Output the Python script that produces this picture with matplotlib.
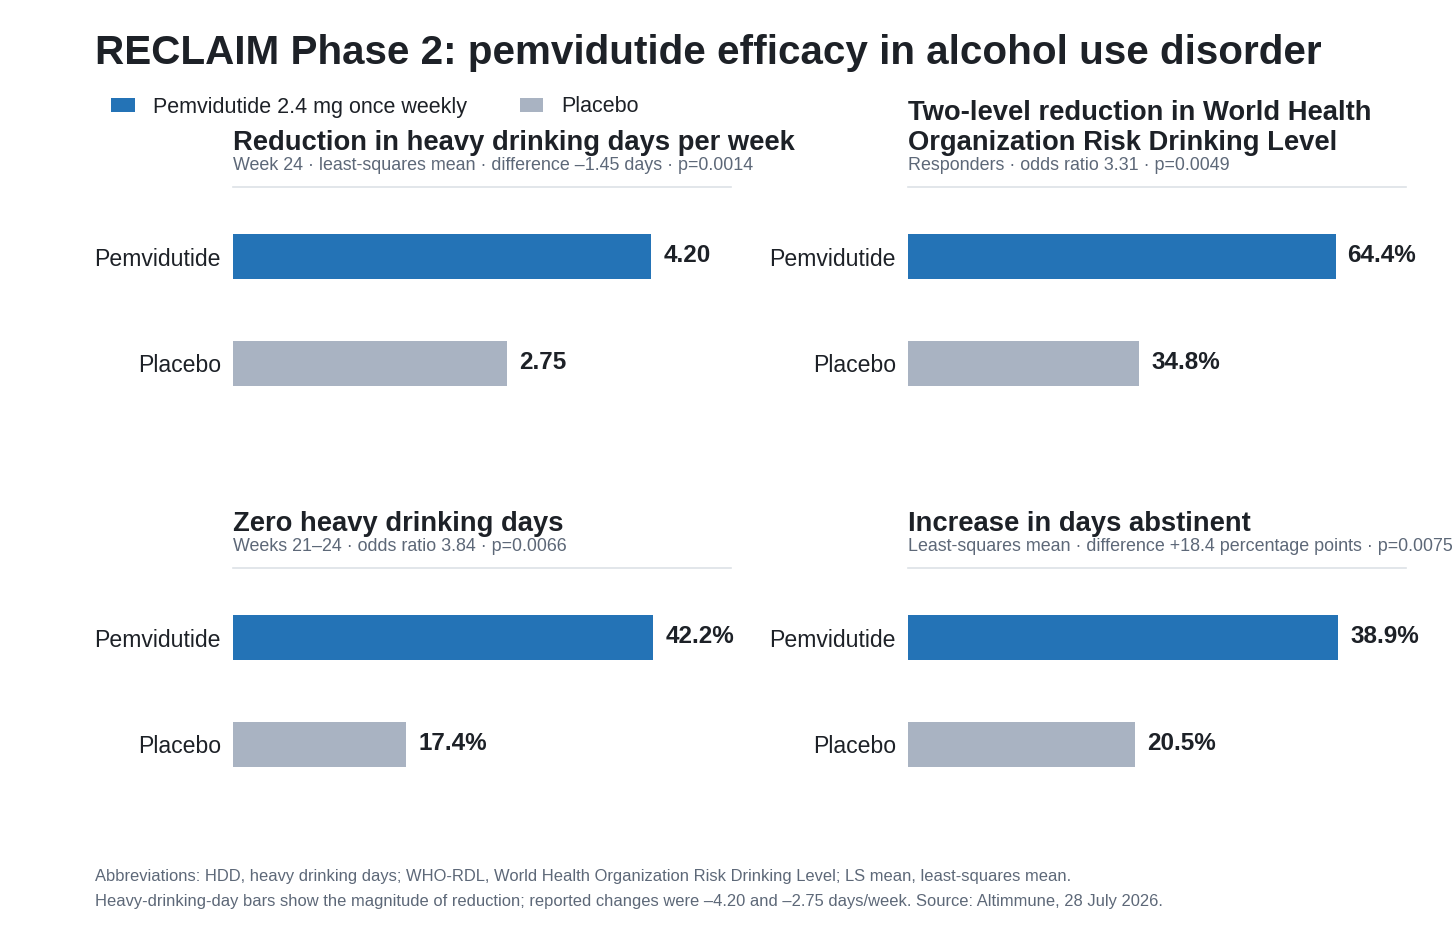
import matplotlib
matplotlib.use("Agg")
import matplotlib.pyplot as plt
from matplotlib.patches import Patch

plt.rcParams['font.family'] = ['Liberation Sans', 'DejaVu Sans']

# data
groups = ["Pemvidutide", "Placebo"]
hdd_values = [4.20, 2.75]
rdl_values = [64.4, 34.8]
zero_hdd_values = [42.2, 17.4]
abstinent_values = [38.9, 20.5]

panel_titles = [
    "Reduction in heavy drinking days per week",
    "Two-level reduction in World Health\nOrganization Risk Drinking Level",
    "Zero heavy drinking days",
    "Increase in days abstinent",
]
panel_subtitles = [
    "Week 24 \u00b7 least-squares mean \u00b7 difference \u20131.45 days \u00b7 p=0.0014",
    "Responders \u00b7 odds ratio 3.31 \u00b7 p=0.0049",
    "Weeks 21\u201324 \u00b7 odds ratio 3.84 \u00b7 p=0.0066",
    "Least-squares mean \u00b7 difference +18.4 percentage points \u00b7 p=0.0075",
]
panel_values = [hdd_values, rdl_values, zero_hdd_values, abstinent_values]
panel_fmt = ["{:.2f}", "{:.1f}%", "{:.1f}%", "{:.1f}%"]
panel_xmax = [5, 75, 50, 45]

title = "RECLAIM Phase 2: pemvidutide efficacy in alcohol use disorder"
legend_labels = ["Pemvidutide 2.4 mg once weekly", "Placebo"]
footer = [
    "Abbreviations: HDD, heavy drinking days; WHO-RDL, World Health Organization Risk Drinking Level; LS mean, least-squares mean.",
    "Heavy-drinking-day bars show the magnitude of reduction; reported changes were \u20134.20 and \u20132.75 days/week. Source: Altimmune, 28 July 2026.",
]

BLUE = "#2473b6"
GREY = "#a9b3c2"
DARK = "#1d2127"
MUTED = "#5d6878"
RULE = "#dde1e6"

W, H = 1456, 936
fig = plt.figure(figsize=(W / 100, H / 100), dpi=100)
fig.patch.set_facecolor("white")


def fx(x):
    return x / W


def fy(y):
    return 1 - y / H


fig.text(fx(95), fy(64), title, fontsize=29.1, fontweight="bold", color=DARK, va="baseline", ha="left")

handles = [Patch(facecolor=BLUE, edgecolor="none"), Patch(facecolor=GREY, edgecolor="none")]
fig.legend(handles, legend_labels, loc="center left", bbox_to_anchor=(fx(111), fy(107)),
           ncol=2, frameon=False, fontsize=15.5, handlelength=1.1, handleheight=0.65,
           handletextpad=0.84, columnspacing=2.45, borderpad=0, borderaxespad=0,
           labelcolor=DARK)

# panel positions in pixels: left, top
lefts = [233, 908, 233, 908]
tops = [187, 187, 568, 568]
pw, ph = 498, 246

for i in range(4):
    l, t = lefts[i], tops[i]
    ax = fig.add_axes([fx(l), fy(t + ph), fx(pw), ph / H])
    vals = panel_values[i]
    ax.barh(range(len(groups)), vals, height=0.42, color=[BLUE, GREY])
    ax.set_xlim(0, panel_xmax[i])
    ax.set_ylim(1.65, -0.65)
    ax.set_yticks(range(len(groups)))
    ax.set_yticklabels(groups, fontsize=16.6, color=DARK)
    ax.tick_params(axis="y", length=0, pad=8.6)
    ax.set_xticks([])
    for s in ["left", "right", "bottom"]:
        ax.spines[s].set_visible(False)
    ax.spines["top"].set_color(RULE)
    ax.spines["top"].set_linewidth(1.2)
    for j, v in enumerate(vals):
        ax.annotate(panel_fmt[i].format(v), xy=(v, j), xytext=(8.6, 1), textcoords="offset points",
                    va="center", ha="left", fontsize=17.5, fontweight="bold", color=DARK)
    fig.text(fx(l), fy(t - 31), panel_titles[i], fontsize=19.7, fontweight="bold", color=DARK,
             va="bottom", ha="left", linespacing=1.22)
    fig.text(fx(l), fy(t - 17), panel_subtitles[i], fontsize=12.9, color=MUTED,
             va="baseline", ha="left")

fig.text(fx(95), fy(881), footer[0], fontsize=11.9, color=MUTED, va="baseline", ha="left")
fig.text(fx(95), fy(906), footer[1], fontsize=11.9, color=MUTED, va="baseline", ha="left")

fig.savefig("out.png", dpi=100, facecolor="white")
